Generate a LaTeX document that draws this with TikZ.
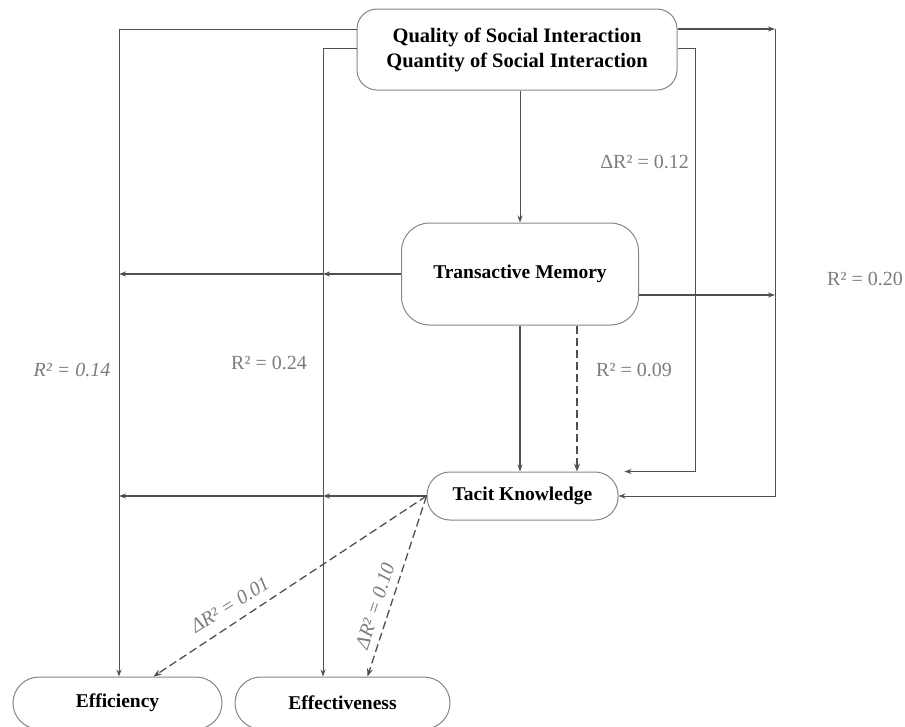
\documentclass[tikz,border=0pt]{standalone}
\usepackage{fontspec}
\setmainfont{Liberation Serif}
\usetikzlibrary{arrows.meta}
\definecolor{linegray}{HTML}{505050}
\definecolor{boxgray}{HTML}{858585}
\definecolor{labelgray}{HTML}{7C7C7C}
\tikzset{
  box/.style={draw=boxgray, line width=1pt, rounded corners=#1, align=center,
    font=\fontsize{19.5}{25}\selectfont\bfseries, inner sep=0pt},
  box/.default=20pt,
  link/.style={draw=linegray, line width=0.9pt},
  tip/.style={-{Stealth[length=7pt,width=5pt]}},
  flow/.style={link, line width=1.4pt, tip},
  thinflow/.style={link, tip},
  dashflow/.style={link, line width=1.3pt, dash pattern=on 8pt off 4pt,
    -{Stealth[length=8pt,width=6pt]}},
  stat/.style={text=labelgray, font=\fontsize{20}{22}\selectfont, inner sep=0pt},
  statit/.style={stat, font=\fontsize{20}{22}\selectfont\itshape},
}
\begin{document}
\begin{tikzpicture}[x=1pt,y=-1pt]
  \useasboundingbox (0,0) rectangle (905,726);
  \clip (0,0) rectangle (905,726);

  % boxes
  \node[box, minimum width=320pt, minimum height=81pt,
        font=\fontsize{20.5}{25}\selectfont\bfseries] (top) at (517,49.5)
    {Quality of Social Interaction\\Quantity of Social Interaction};
  \node[box=28pt, minimum width=237pt, minimum height=102pt] (tm) at (520,274)
    {Transactive Memory};
  \node[box=23pt, minimum width=191pt, minimum height=48pt] (tacit) at (522.5,496)
    {Tacit Knowledge};
  \node[box=26pt, minimum width=209pt, minimum height=52pt] (effy) at (117.5,703)
    {Efficiency};
  \node[box=26pt, minimum width=215pt, minimum height=52pt] (effv) at (342.5,703)
    {Effectiveness};

  % bend points of the long connectors
  \coordinate (lo) at (119,29);
  \coordinate (li) at (323,48);
  \coordinate (ro) at (775,29);
  \coordinate (ri) at (695,48);
  \coordinate (tmr) at ([yshift=-21pt]tm.east);

  % from the social interaction box
  \draw[thinflow] (top.west |- lo) -- (lo) -- (lo |- effy.north);
  \draw[thinflow] (top.west |- li) -- (li) -- (li |- effv.north);
  \draw[flow] (top.east |- ro) -- (ro);
  \draw[thinflow] (ro) -- (ro |- tacit.east) -- (tacit.east);
  \draw[thinflow] (top.east |- ri) -- (ri) -- (ri |- tacit.north)
    -- ([xshift=6pt]tacit.north east);
  \draw[thinflow] (tm.north |- top.south) -- (tm.north);

  % from transactive memory
  \draw[flow] (tm.west) -- (li |- tm.west);
  \draw[flow] (li |- tm.west) -- (lo |- tm.west);
  \draw[flow] (tmr) -- (ro |- tmr);
  \draw[flow] (tm.south) -- (tm.south |- tacit.north);
  \draw[dashflow] ([xshift=57pt]tm.south) -- ([xshift=57pt]tm.south |- tacit.north);

  % from tacit knowledge
  \draw[flow] (tacit.west) -- (li |- tacit.west);
  \draw[flow] (li |- tacit.west) -- (lo |- tacit.west);
  \draw[dashflow] (tacit.west) -- ([xshift=36pt]effy.north);
  \draw[dashflow] (tacit.west) -- ([xshift=25pt]effv.north);

  % statistics
  \node[stat, anchor=east] (s12) at (689,162) {ΔR² = 0.12};
  \node[stat] (s20) at (865,279) {R² = 0.20};
  \node[stat] (s09) at (634,370) {R² = 0.09};
  \node[stat] (s24) at (269,363) {R² = 0.24};
  \node[statit] (s14) at (72,370) {R² = 0.14};
  \node[statit, rotate=32] (s01) at (230,605) {ΔR² = 0.01};
  \node[statit, rotate=72] (s10) at (375,606) {ΔR² = 0.10};
\end{tikzpicture}
\end{document}
